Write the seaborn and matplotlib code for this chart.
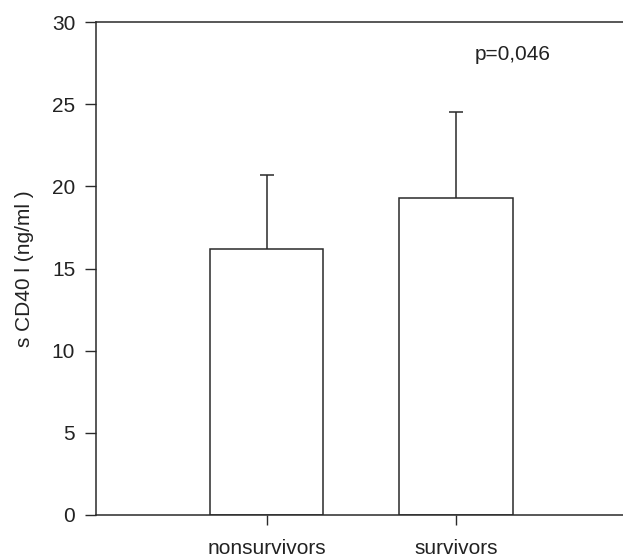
import matplotlib
matplotlib.use("Agg")
import matplotlib.pyplot as plt
import seaborn as sns
import numpy as np
import pandas as pd

categories = ["nonsurvivors", "survivors"]
means = [16.2, 19.3]
errors = [4.5, 5.2]
yticks = [0, 5, 10, 15, 20, 25, 30]
ylabel = "s CD40 l (ng/ml )"
annotation = "p=0,046"

sns.set_theme(style="white")
plt.rcParams['font.family'] = ['Liberation Sans', 'DejaVu Sans']

df = pd.DataFrame({"group": categories, "value": means})

fig = plt.figure(figsize=(6.23, 5.58), dpi=100)
ax = fig.add_axes([96/623, 1-515/558, (623-96)/623, (515-22)/558])

line_col = "#2a2a2a"
text_col = "#222222"
sns.barplot(data=df, x="group", y="value", color="white", edgecolor=line_col,
            linewidth=1.1, width=0.6, errorbar=None, ax=ax)
for p in ax.patches:
    p.set_facecolor("white")

xpos = np.arange(len(categories))
_, caps, _ = ax.errorbar(xpos, means, yerr=[np.zeros(len(errors)), errors], fmt="none",
                         ecolor=line_col, elinewidth=1.1, capsize=5, capthick=1.1)
caps[0].set_visible(False)

ax.set_xlim(-0.9, 1.88)
ax.set_ylim(0, 30)
ax.set_yticks(yticks)
ax.set_yticklabels([str(t) for t in yticks], fontsize=15, color=text_col)
ax.set_xticks(xpos)
ax.set_xticklabels(categories, fontsize=15, color=text_col)
ax.set_xlabel("")
ax.set_ylabel(ylabel, fontsize=15, color=text_col)
ax.yaxis.set_label_coords(-0.117, 0.5)

for s in ["left", "bottom", "top"]:
    ax.spines[s].set_visible(True)
    ax.spines[s].set_color(line_col)
    ax.spines[s].set_linewidth(1.1)
ax.spines["right"].set_visible(False)

ax.tick_params(axis="y", direction="out", length=8, width=1, color=line_col, pad=7, left=True)
ax.tick_params(axis="x", direction="out", length=7, width=1, color=line_col, pad=10, bottom=True)

ax.text(1.3, 28.0, annotation, fontsize=15, color=text_col, ha="center", va="center")

fig.savefig("out.png", dpi=100, facecolor="white")
